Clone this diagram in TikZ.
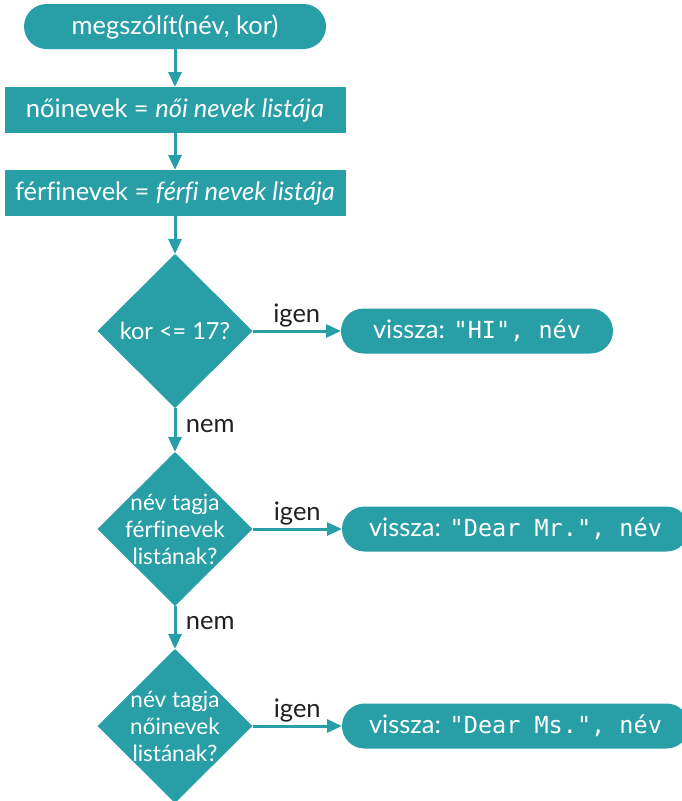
\documentclass[tikz,border=0pt]{standalone}
\usepackage{fontspec}
\setmainfont{Lato}[Ligatures=NoCommon]
\setmonofont{DejaVu Sans Mono}
\usetikzlibrary{shapes.geometric, arrows.meta, positioning}
\definecolor{flowteal}{RGB}{40,158,167}
\definecolor{labelgray}{RGB}{35,31,32}
\newcommand\codetext[1]{{\fontsize{23.5}{28}\selectfont\ttfamily #1}}

\begin{document}
\begin{tikzpicture}[
    x=1pt, y=1pt,
    node distance=38pt,
    box/.style={fill=flowteal, text=white, minimum height=46pt, inner sep=0pt, outer sep=0pt, font=\fontsize{25.5}{30}\selectfont},
    terminal/.style={box, rounded corners=22.5pt, minimum height=45pt},
    decision/.style={diamond, fill=flowteal, minimum width=155pt, minimum height=154pt, inner sep=0pt, outer sep=0pt},
    dtext/.style={text=white, align=center, font=\fontsize{22.5}{27}\selectfont},
    flow/.style={draw=flowteal, line width=3pt, -{Triangle[length=15pt, width=13pt]}},
    answer/.style={text=labelgray, font=\fontsize{25.5}{30}\selectfont}
]
\useasboundingbox (0,0) rectangle (682,-801);

% main column
\node[terminal, minimum width=302pt] (start) at (175,-26.5) {megszólít(név, kor)};
\node[box, minimum width=341pt, below=38pt of start] (noi) {nőinevek = \textit{női nevek listája}};
\node[box, minimum width=341pt, below=37pt of noi] (ferfi) {férfinevek = \textit{férfi nevek listája}};
\node[decision, below=38pt of ferfi, label={[dtext, font=\fontsize{23.5}{27}\selectfont]center:kor <= 17?}] (kor) {};
\node[decision, below=44pt of kor, label={[dtext]center:név tagja\\férfinevek\\listának?}] (tagmr) {};
\node[decision, below=43pt of tagmr, label={[dtext]center:név tagja\\nőinevek\\listának?}] (tagms) {};

% results
\node[terminal, minimum width=272pt, right=88.5pt of kor] (hi) {vissza: \codetext{"HI", név}};
\node[terminal, minimum width=347pt, right=89.5pt of tagmr] (mr) {vissza: \codetext{"Dear Mr.", név}};
\node[terminal, minimum width=347pt, right=89.5pt of tagms] (ms) {vissza: \codetext{"Dear Ms.", név}};

\draw[flow] (start) -- (noi);
\draw[flow] (noi) -- (ferfi);
\draw[flow] (ferfi) -- (kor);
\draw[flow] (kor) -- node[answer, above=-1pt] {igen} (hi);
\draw[flow] (kor) -- node[answer, right=6pt, pos=0.4] {nem} (tagmr);
\draw[flow] (tagmr) -- node[answer, above=-1pt] {igen} (mr);
\draw[flow] (tagmr) -- node[answer, right=6pt, pos=0.4] {nem} (tagms);
\draw[flow] (tagms) -- node[answer, above=-1pt] {igen} (ms);

\end{tikzpicture}
\end{document}
